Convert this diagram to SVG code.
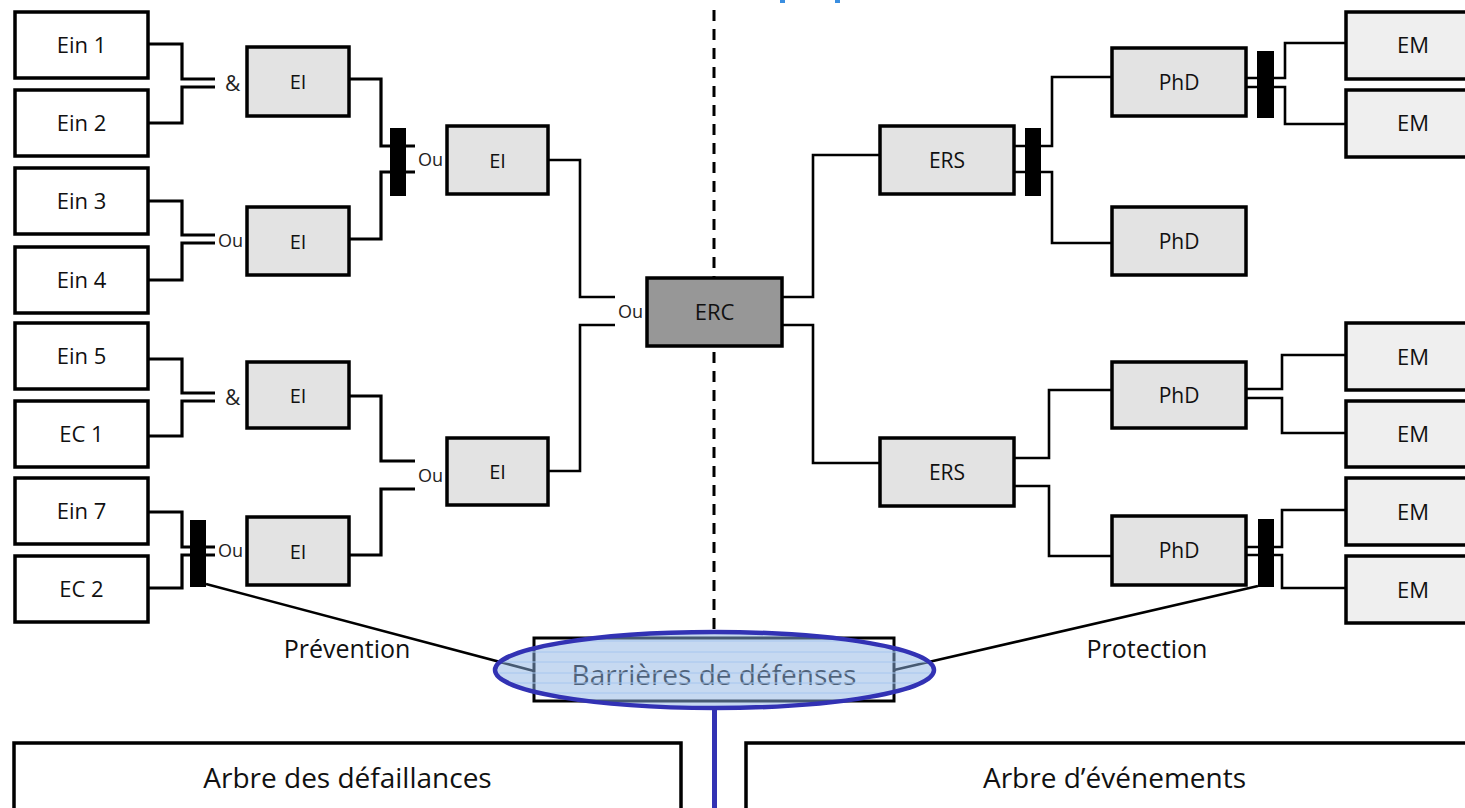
<svg xmlns="http://www.w3.org/2000/svg" width="1465" height="808" viewBox="0 0 1465 808">
  <defs>
    <style>
      .box { stroke: #000; stroke-width: 3.5; }
      .white { fill: #fff; }
      .grey { fill: #e3e3e3; }
      .pale { fill: #efefef; }
      .dark { fill: #979797; }
      .bar { fill: #000; }
      .wire { fill: none; stroke: #000; stroke-width: 3.2; stroke-linejoin: miter; }
      .thin { fill: none; stroke: #000; stroke-width: 2.6; }
      .t { font-family: "Open Sans", "Noto Sans", sans-serif; fill: #111; text-anchor: middle; }
      .lbl { font-family: "Open Sans", "Noto Sans", sans-serif; fill: #222; font-size: 18px; }
      .amp { font-size: 21px; }
      .n22 { font-size: 22px; }
      .n21 { font-size: 21px; }
      .n20 { font-size: 20px; }
      .big { font-size: 28px; }
      .mid { font-size: 25px; }
    </style>
    <clipPath id="ovalClip">
      <ellipse cx="714.5" cy="670" rx="219.5" ry="38"/>
    </clipPath>
  </defs>

  <rect width="1465" height="808" fill="#fff"/>

  <!-- centre separator -->
  <line x1="714" y1="10" x2="714" y2="640" stroke="#000" stroke-width="3" stroke-dasharray="11 8"/>

  <!-- small blue marks at the top edge -->
  <rect x="780" y="0" width="5" height="3" fill="#3a8ee0"/>
  <rect x="835" y="0" width="5" height="3" fill="#3a8ee0"/>

  <g id="connectors">
    <!-- fault tree: inputs to first gates -->
    <path class="wire" d="M148,44 H182 V79 H215"/>
    <path class="wire" d="M148,123 H182 V87 H215"/>
    <path class="wire" d="M148,201 H182 V235 H215"/>
    <path class="wire" d="M148,280 H182 V243 H215"/>
    <path class="wire" d="M148,359 H182 V393 H215"/>
    <path class="wire" d="M148,436 H182 V401 H215"/>
    <path class="wire" d="M148,512 H182 V547 H215"/>
    <path class="wire" d="M148,588 H182 V555 H215"/>
    <!-- second level -->
    <path class="wire" d="M349,79 H381 V146 H415"/>
    <path class="wire" d="M349,239 H381 V172 H415"/>
    <path class="wire" d="M349,396 H381 V461 H415"/>
    <path class="wire" d="M349,555 H381 V489 H415"/>
    <!-- to the central event -->
    <path class="thin" d="M548,160 H580 V297 H615"/>
    <path class="thin" d="M548,471 H580 V325 H615"/>
    <!-- event tree -->
    <path class="thin" d="M782,297 H813 V155 H880"/>
    <path class="thin" d="M782,325 H813 V463 H880"/>
    <path class="thin" d="M1014,146 H1052 V77 H1112"/>
    <path class="thin" d="M1014,172 H1052 V243 H1112"/>
    <path class="thin" d="M1014,458 H1049 V390 H1112"/>
    <path class="thin" d="M1014,486 H1049 V556 H1112"/>
    <path class="thin" d="M1246,78 H1285 V43 H1346"/>
    <path class="thin" d="M1246,87 H1285 V124 H1346"/>
    <path class="thin" d="M1246,389 H1282 V355 H1346"/>
    <path class="thin" d="M1246,398 H1282 V433 H1346"/>
    <path class="thin" d="M1246,547 H1282 V510 H1346"/>
    <path class="thin" d="M1246,555 H1282 V588 H1346"/>
    <!-- barrier lines -->
    <line x1="206" y1="584" x2="534" y2="671" stroke="#000" stroke-width="2.5"/>
    <line x1="1258" y1="586" x2="894" y2="670" stroke="#000" stroke-width="2.5"/>
  </g>

  <!-- barrier bars -->
  <g id="barriers">
    <rect class="bar" x="390" y="128" width="16" height="68"/>
    <rect class="bar" x="190" y="520" width="16" height="67"/>
    <rect class="bar" x="1025" y="128" width="16" height="68"/>
    <rect class="bar" x="1257" y="51" width="17" height="67"/>
    <rect class="bar" x="1258" y="519" width="16" height="68"/>
  </g>

  <!-- gate labels -->
  <g id="gates">
    <text class="lbl amp" x="225" y="91">&amp;</text>
    <text class="lbl" x="218" y="247">Ou</text>
    <text class="lbl" x="418" y="166">Ou</text>
    <text class="lbl" x="618" y="318">Ou</text>
    <text class="lbl amp" x="225" y="405">&amp;</text>
    <text class="lbl" x="418" y="482">Ou</text>
    <text class="lbl" x="218" y="557">Ou</text>
  </g>

  <!-- initiating events -->
  <g id="ein1"><rect class="box white" x="15" y="12" width="133" height="66"/><text class="t n22" x="81.5" y="53">Ein 1</text></g>
  <g id="ein2"><rect class="box white" x="15" y="90" width="133" height="66"/><text class="t n22" x="81.5" y="131">Ein 2</text></g>
  <g id="ein3"><rect class="box white" x="15" y="168" width="133" height="66"/><text class="t n22" x="81.5" y="209">Ein 3</text></g>
  <g id="ein4"><rect class="box white" x="15" y="247" width="133" height="66"/><text class="t n22" x="81.5" y="288">Ein 4</text></g>
  <g id="ein5"><rect class="box white" x="15" y="323" width="133" height="66"/><text class="t n22" x="81.5" y="364">Ein 5</text></g>
  <g id="ec1"><rect class="box white" x="15" y="401" width="133" height="66"/><text class="t n22" x="81.5" y="442">EC 1</text></g>
  <g id="ein7"><rect class="box white" x="15" y="478" width="133" height="66"/><text class="t n22" x="81.5" y="519">Ein 7</text></g>
  <g id="ec2"><rect class="box white" x="15" y="556" width="133" height="66"/><text class="t n22" x="81.5" y="597">EC 2</text></g>

  <!-- intermediate events -->
  <g id="ei1"><rect class="box grey" x="247" y="47" width="102" height="69"/><text class="t n20" x="298" y="88.5">EI</text></g>
  <g id="ei2"><rect class="box grey" x="247" y="207" width="102" height="68"/><text class="t n20" x="298" y="248.5">EI</text></g>
  <g id="ei3"><rect class="box grey" x="247" y="362" width="102" height="66"/><text class="t n20" x="298" y="402.5">EI</text></g>
  <g id="ei4"><rect class="box grey" x="247" y="517" width="102" height="68"/><text class="t n20" x="298" y="558.5">EI</text></g>
  <g id="ei5"><rect class="box grey" x="447" y="126" width="101" height="68"/><text class="t n20" x="497.5" y="167.5">EI</text></g>
  <g id="ei6"><rect class="box grey" x="447" y="438" width="101" height="67"/><text class="t n20" x="497.5" y="478.5">EI</text></g>

  <!-- central event -->
  <g id="erc"><rect class="box dark" x="647" y="278" width="135" height="68"/><text class="t n22" x="714.5" y="320">ERC</text></g>

  <!-- event tree -->
  <g id="ers1"><rect class="box grey" x="880" y="126" width="134" height="68"/><text class="t n21" x="947" y="167.5">ERS</text></g>
  <g id="ers2"><rect class="box grey" x="880" y="438" width="134" height="68"/><text class="t n21" x="947" y="479.5">ERS</text></g>
  <g id="phd1"><rect class="box grey" x="1112" y="48" width="134" height="68"/><text class="t n21" x="1179" y="89.5">PhD</text></g>
  <g id="phd2"><rect class="box grey" x="1112" y="207" width="134" height="68"/><text class="t n21" x="1179" y="248.5">PhD</text></g>
  <g id="phd3"><rect class="box grey" x="1112" y="362" width="134" height="66"/><text class="t n21" x="1179" y="402.5">PhD</text></g>
  <g id="phd4"><rect class="box grey" x="1112" y="516" width="134" height="69"/><text class="t n21" x="1179" y="558">PhD</text></g>
  <g id="em1"><rect class="box pale" x="1346" y="12" width="140" height="67"/><text class="t n22" x="1413" y="53">EM</text></g>
  <g id="em2"><rect class="box pale" x="1346" y="90" width="140" height="67"/><text class="t n22" x="1413" y="131">EM</text></g>
  <g id="em3"><rect class="box pale" x="1346" y="323" width="140" height="67"/><text class="t n22" x="1413" y="364.5">EM</text></g>
  <g id="em4"><rect class="box pale" x="1346" y="401" width="140" height="66"/><text class="t n22" x="1413" y="442">EM</text></g>
  <g id="em5"><rect class="box pale" x="1346" y="478" width="140" height="67"/><text class="t n22" x="1413" y="519.5">EM</text></g>
  <g id="em6"><rect class="box pale" x="1346" y="556" width="140" height="67"/><text class="t n22" x="1413" y="597.5">EM</text></g>

  <!-- barrier captions -->
  <text class="t mid" x="347" y="658">Prévention</text>
  <text class="t mid" x="1147" y="658">Protection</text>

  <!-- defence barriers, highlighted -->
  <g id="barrieres">
    <rect x="534" y="638" width="360" height="63" fill="#fff" stroke="#000" stroke-width="3"/>
    <text class="t big" x="714" y="685">Barrières de défenses</text>
    <ellipse cx="714.5" cy="670" rx="219.5" ry="38" fill="#8db4e3" fill-opacity="0.5"/>
    <g clip-path="url(#ovalClip)" stroke="#a6c6ef" stroke-width="1">
      <line x1="490" y1="641" x2="940" y2="641"/>
      <line x1="490" y1="652" x2="940" y2="652"/>
      <line x1="490" y1="662" x2="940" y2="662"/>
      <line x1="490" y1="673" x2="940" y2="673"/>
      <line x1="490" y1="683" x2="940" y2="683"/>
      <line x1="490" y1="693" x2="940" y2="693"/>
    </g>
    <ellipse cx="714.5" cy="670" rx="219.5" ry="38" fill="none" stroke="#3232b4" stroke-width="4.5"/>
    <line x1="714.5" y1="708" x2="714.5" y2="808" stroke="#3232b4" stroke-width="5"/>
  </g>

  <!-- tree titles -->
  <g id="arbre-defaillances">
    <rect x="14" y="743" width="667" height="90" fill="#fff" stroke="#000" stroke-width="3.5"/>
    <text class="t big" x="347.5" y="788">Arbre des défaillances</text>
  </g>
  <g id="arbre-evenements">
    <rect x="746" y="743" width="760" height="90" fill="#fff" stroke="#000" stroke-width="3.5"/>
    <text class="t big" x="1114.5" y="788">Arbre d’événements</text>
  </g>
</svg>
